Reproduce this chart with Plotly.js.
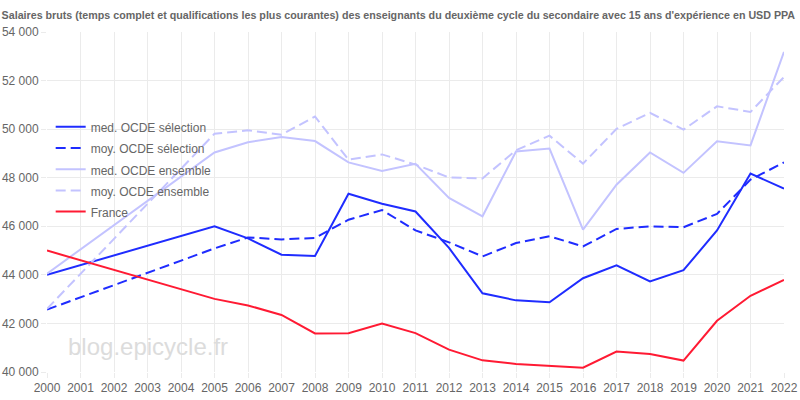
<!DOCTYPE html>
<html>
<head>
<meta charset="utf-8">
<script src="https://cdn.plot.ly/plotly-3.0.1.min.js"></script>
<style>html,body{margin:0;padding:0;background:#fff}#chart{width:800px;height:400px}</style>
</head>
<body>
<div id="chart"></div>
<script>
const years = [2000,2001,2002,2003,2004,2005,2006,2007,2008,2009,2010,2011,2012,2013,2014,2015,2016,2017,2018,2019,2020,2021,2022];
const medSelection = [44000,null,null,null,null,46000,45500,44830,44780,47340,46930,46610,45110,43240,42950,42870,43860,44390,43730,44190,45830,48170,47550];
const moySelection = [42570,null,null,null,null,45090,45540,45460,45520,46270,46670,45830,45340,44760,45310,45590,45170,45890,46000,45960,46510,47920,48630];
const medEnsemble = [44050,null,null,null,null,49040,49460,49680,49510,48630,48280,48570,47170,46410,49080,49200,45860,47710,49040,48200,49500,49330,53180];
const moyEnsemble = [42600,null,null,null,null,49810,49950,49770,50520,48740,48960,48540,48010,47970,49130,49730,48580,50010,50670,49980,50940,50710,52150];
const france = [45000,null,null,null,null,43010,42740,42350,41590,41600,42000,41600,40920,40480,40330,40250,40180,40840,40740,40470,42110,43140,43790];
const yTicks = [40000,42000,44000,46000,48000,50000,52000,54000];
const seriesNames = ['med. OCDE sélection','moy. OCDE sélection','med. OCDE ensemble','moy. OCDE ensemble','France'];

const blue = '#1f2cff';
const light = '#c3c3ff';
const red = '#ff1a33';
const dashPat = '10px,5px';
const lbl = s => '<span style="font-size:12px">' + s + '</span>';

const traces = [
  {x: years, y: medSelection, name: lbl(seriesNames[0]), line: {color: blue, width: 2}},
  {x: years, y: moySelection, name: lbl(seriesNames[1]), line: {color: blue, width: 2, dash: dashPat}},
  {x: years, y: medEnsemble, name: lbl(seriesNames[2]), line: {color: light, width: 2}},
  {x: years, y: moyEnsemble, name: lbl(seriesNames[3]), line: {color: light, width: 2, dash: dashPat}},
  {x: years, y: france, name: lbl(seriesNames[4]), line: {color: red, width: 2}}
].map(t => Object.assign({type: 'scatter', mode: 'lines', connectgaps: true, hoverinfo: 'skip'}, t));

const layout = {
  width: 800, height: 400,
  margin: {l: 47, r: 16, t: 32, b: 28, pad: 0},
  paper_bgcolor: '#fff', plot_bgcolor: '#fff',
  font: {family: '"Liberation Sans", Arial, sans-serif', size: 12, color: '#666'},
  separators: ', ',
  title: {
    text: "<b>Salaires bruts (temps complet et qualifications les plus courantes) des enseignants du deuxième cycle du secondaire avec 15 ans d'expérience en USD PPA</b>",
    font: {family: '"Liberation Sans", Arial, sans-serif', size: 10.7, color: '#666'},
    xref: 'container', x: 0.002, xanchor: 'left',
    yref: 'container', y: 0.963, yanchor: 'middle'
  },
  xaxis: {
    range: [2000, 2022], tickvals: years, ticktext: years.map(String),
    showgrid: true, gridcolor: '#ebebeb', gridwidth: 1,
    zeroline: false, showline: false,
    ticks: 'outside', ticklen: 5, tickcolor: '#ebebeb',
    tickfont: {size: 12, color: '#666'}
  },
  yaxis: {
    range: [40000, 54000], tickvals: yTicks, tickformat: ',d',
    showgrid: true, gridcolor: '#ebebeb', gridwidth: 1,
    zeroline: false, showline: false,
    ticks: 'outside', ticklen: 5, tickcolor: '#ebebeb',
    tickfont: {size: 12, color: '#666'}
  },
  showlegend: true,
  legend: {
    x: 0.005, xanchor: 'left', y: 0.767, yanchor: 'top',
    bgcolor: 'rgba(0,0,0,0)', borderwidth: 0,
    font: {size: 14, color: '#666'},
    itemwidth: 30, tracegroupgap: 0
  },
  annotations: [{
    text: 'blog.epicycle.fr', xref: 'paper', yref: 'paper',
    x: 0.026, xanchor: 'left', y: 0.075, yanchor: 'middle',
    showarrow: false,
    font: {size: 24, color: '#dcdcdc', family: '"Liberation Sans", Arial, sans-serif'}
  }]
};

Plotly.newPlot('chart', traces, layout, {staticPlot: true, displayModeBar: false});
</script>
</body>
</html>
